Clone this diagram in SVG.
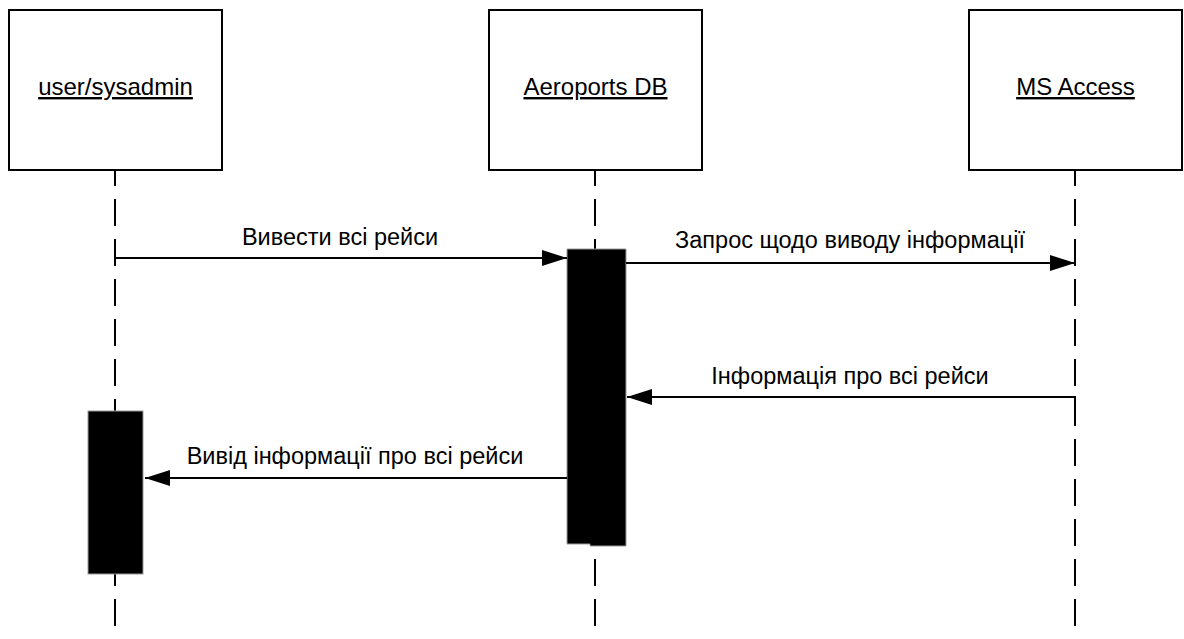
<svg xmlns="http://www.w3.org/2000/svg" width="1184" height="639" viewBox="0 0 1184 639">
  <style>
    .box { fill: #ffffff; stroke: #000000; stroke-width: 2; }
    .head { font-family: "Liberation Sans", Arial, sans-serif; font-size: 24px; fill: #000000; text-anchor: middle; text-decoration: underline; }
    .life { stroke: #000000; stroke-width: 2; stroke-dasharray: 27 13; stroke-dashoffset: 11; fill: none; }
    .bar { fill: #000000; stroke: #9a9a9a; stroke-width: 1; }
    .msg { stroke: #000000; stroke-width: 2; fill: none; }
    .lbl { font-family: "Liberation Sans", Arial, sans-serif; font-size: 23.5px; fill: #000000; text-anchor: middle; }
  </style>
  <defs>
    <marker id="arrow" viewBox="0 0 25 16" refX="25" refY="8" markerWidth="25" markerHeight="16" markerUnits="userSpaceOnUse" orient="auto">
      <path d="M0,0 L25,8 L0,16 Z" fill="#000000"/>
    </marker>
  </defs>
  <rect width="1184" height="639" fill="#ffffff"/>

  <!-- lifelines -->
  <g id="lifelines">
    <line class="life" x1="115" y1="170" x2="115" y2="639"/>
    <line class="life" x1="595" y1="170" x2="595" y2="639"/>
    <line class="life" x1="1075" y1="170" x2="1075" y2="639"/>
  </g>

  <!-- participants -->
  <g id="user">
    <rect class="box" x="9" y="10" width="213" height="160"/>
    <text class="head" x="115.5" y="95">user/sysadmin</text>
  </g>
  <g id="db">
    <rect class="box" x="489" y="10" width="213" height="160"/>
    <text class="head" x="595.5" y="95">Aeroports DB</text>
  </g>
  <g id="access">
    <rect class="box" x="969" y="10" width="213" height="160"/>
    <text class="head" x="1075.5" y="95">MS Access</text>
  </g>

  <!-- activation bars -->
  <g id="db-activation">
    <path class="bar" d="M567,249 H626 V546 H590 V544 H567 Z"/>
  </g>
  <g id="user-activation">
    <rect class="bar" x="88" y="411" width="55" height="163"/>
  </g>

  <!-- messages -->
  <g id="connectors">
    <line class="msg" x1="115" y1="258" x2="567" y2="258" marker-end="url(#arrow)"/>
    <line class="msg" x1="626" y1="263" x2="1075" y2="263" marker-end="url(#arrow)"/>
    <polyline class="msg" points="1075,410 1075,397 627,397" marker-end="url(#arrow)"/>
    <line class="msg" x1="567" y1="478" x2="145" y2="478" marker-end="url(#arrow)"/>
  </g>

  <g id="labels">
    <text class="lbl" x="340" y="245">Вивести всі рейси</text>
    <text class="lbl" x="850" y="248">Запрос щодо виводу інформації</text>
    <text class="lbl" x="850" y="384">Інформація про всі рейси</text>
    <text class="lbl" x="355" y="464">Вивід інформації про всі рейси</text>
  </g>
</svg>
